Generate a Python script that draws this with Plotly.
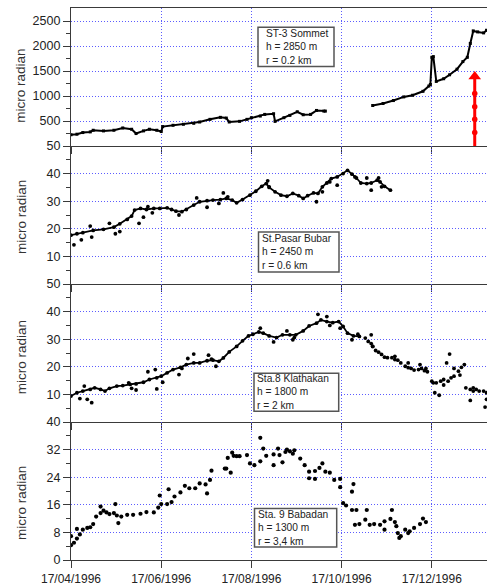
import pandas as pd
import plotly.graph_objects as go
from plotly.subplots import make_subplots

START = "1996-04-17"
END_DAYS = 281.3

# ---------------- data (day offsets from 17/04/1996, micro radian) ----------------
# Panel 1: ST-3 Sommet (continuous record with a gap)
p1_days = [0, 4, 8, 13, 15, 22, 29, 35, 41, 44, 49, 53, 58, 61, 62, 69, 76, 83, 87, 94,
           101, 105, 107, 114, 119, 122, 128, 131, 137, 138, 144, 148, 153, 157, 162, 166, 171, 172, 188, 204,
           211, 218, 225, 231, 238, 242, 243, 244, 245, 247, 252, 256, 261, 265, 268, 270, 272, 275, 279, 281]
p1_vals = [223, 236, 269, 282, 315, 302, 315, 361, 335, 249, 302, 335, 315, 289, 388, 414, 434, 454, 480, 533,
           573, 559, 480, 493, 533, 566, 599, 632, 645, 493, 566, 612, 685, 625, 632, 711, 698, 698, None, 810,
           850, 909, 982, 1015, 1094, 1200, 1230, 1774, 1787, 1292, 1345, 1424, 1536, 1688, 1774, 2051, 2302, 2282, 2262, 2315]
# red arrow (eruption marker) in panel 1
arrow_day = 273
arrow_shaft = [0, 1400]
arrow_marks = [269, 533, 784, 1048]
arrow_head = 1390

# Panel 2: St. Pasar Bubar
p2_days = [0, 4, 8, 15, 22, 29, 33, 38, 41, 43, 47, 51, 56, 60, 65, 68, 71, 75, 78, 83,
           87, 92, 96, 101, 105, 109, 112, 116, 121, 125, 129, 132, 134, 138, 142, 146, 150, 154, 157, 160,
           164, 167, 170, 173, 176, 180, 184, 187, 190, 193, 196, 200, 203, 207, 209, 212, 216]
p2_vals = [17.7, 18.2, 18.6, 19.4, 19.8, 20.6, 21.8, 23.4, 24.6, 26.8, 27.4, 27.0, 27.4, 27.4, 27.6, 27.0, 26.4, 26.2, 27.0, 28.6,
           29.8, 30.2, 30.4, 30.6, 31.0, 30.4, 29.4, 30.6, 32.2, 33.6, 35.4, 36.4, 35.0, 33.4, 32.2, 31.8, 32.8, 32.0, 31.0, 32.0,
           33.0, 32.8, 35.2, 36.6, 38.2, 38.8, 40.0, 41.2, 39.8, 38.4, 36.6, 36.4, 36.6, 37.6, 37.0, 35.4, 34.0]
p2_out_days = [2, 7, 13, 14, 26, 30, 33, 46, 49, 52, 55, 73, 85, 92, 100, 103, 106, 133, 134, 166,
               170, 175, 180, 192, 200, 203, 208, 210]
p2_out_vals = [14.2, 16.0, 21.0, 17.0, 22.0, 18.2, 19.0, 22.0, 24.2, 28.0, 25.8, 25.0, 31.2, 27.8, 29.2, 33.0, 31.6, 37.4, 35.2, 29.8,
               33.4, 37.0, 35.8, 38.8, 38.4, 34.0, 38.4, 35.2]

# Panel 3: Sta.8 Klathakan
p3_days = [0, 4, 8, 13, 16, 20, 23, 26, 31, 35, 40, 44, 49, 53, 58, 61, 65, 69, 74, 78,
           83, 87, 92, 96, 100, 103, 107, 112, 116, 120, 123, 127, 130, 134, 139, 143, 148, 152, 157, 161,
           166, 169, 173, 177, 181, 184, 187, 191, 195]
p3_vals = [9.4, 10.6, 11.2, 11.8, 12.4, 11.8, 11.2, 12.2, 13.0, 13.2, 13.6, 13.8, 14.4, 15.4, 16.0, 16.6, 17.8, 19.0, 19.8, 20.8,
           21.4, 21.4, 22.2, 22.4, 22.0, 23.2, 25.4, 27.4, 29.4, 31.2, 31.8, 32.6, 32.2, 31.2, 30.6, 31.6, 31.6, 31.6, 33.0, 34.8,
           35.8, 37.0, 36.4, 36.0, 36.4, 34.6, 32.2, 31.2, 31.0]
p3_late_days = [199, 201, 203, 204, 206, 208, 210, 212, 214, 217, 219, 221, 223, 226, 228, 230, 232, 235, 237, 239,
                241, 244, 245, 247, 250, 252, 255, 257, 259, 262, 264, 266, 267, 270, 272, 274, 276, 279, 281]
p3_late_vals = [30.4, 29.2, 28.4, 27.4, 25.9, 25.3, 24.5, 23.5, 23.3, 23.3, 22.6, 22.4, 21.4, 20.2, 19.7, 19.4, 18.8, 19.0, 19.4, 18.6,
                18.2, 14.8, 14.2, 14.2, 14.8, 15.4, 14.8, 16.0, 16.6, 18.4, 19.8, 20.8, 12.4, 11.8, 11.2, 11.8, 11.2, 11.2, 10.6]
p3_out_days = [6, 9, 11, 14, 39, 41, 44, 52, 57, 58, 62, 73, 75, 79, 83, 93, 95, 98, 128, 137,
               146, 150, 151, 167, 173, 175, 182, 190, 194, 203, 204, 219, 228, 236, 240, 246, 249, 252, 254, 256,
               259, 263, 270, 272, 280, 281]
p3_out_vals = [8.5, 13.0, 8.2, 7.0, 14.2, 12.2, 11.6, 18.2, 19.0, 12.0, 14.4, 17.2, 19.4, 23.0, 24.6, 24.2, 22.8, 20.2, 34.0, 29.0,
               33.0, 29.8, 30.6, 39.0, 38.2, 35.0, 34.0, 29.8, 31.8, 31.6, 27.4, 23.8, 21.4, 20.8, 19.4, 10.6, 9.7, 13.4, 21.4, 24.6,
               19.4, 17.0, 7.8, 12.4, 5.4, 8.2]

# Panel 4: Sta. 9 Babadan
p4_days = [0, 2, 4, 6, 8, 11, 13, 15, 17, 20, 22, 24, 26, 29, 31, 34, 38, 42, 47, 51,
           56, 59, 61, 65, 68, 70, 74, 77, 80, 84, 87, 91, 94, 104, 106, 110, 114, 119, 121, 124,
           128, 132, 137, 141, 145, 148, 151, 155, 158, 161, 165, 168, 172, 175, 178, 182, 184, 186, 190, 192,
           195, 199, 202, 205, 209, 212, 216, 219, 221, 223, 226, 229, 232, 236, 238, 240]
p4_vals = [4.3, 5.0, 6.2, 7.4, 8.8, 9.3, 9.5, 10.4, 12.6, 13.6, 14.3, 13.8, 13.3, 13.6, 12.9, 12.6, 13.1, 13.1, 13.4, 13.9,
           13.8, 15.2, 16.2, 16.2, 16.8, 18.4, 19.6, 21.5, 20.8, 20.8, 22.2, 21.9, 23.2, 26.5, 29.6, 30.2, 30.1, 30.4, 28.0, 27.5,
           28.6, 30.2, 30.6, 30.4, 31.3, 31.5, 31.8, 29.4, 27.5, 25.6, 25.8, 26.7, 25.6, 25.3, 23.2, 23.5, 16.5, 15.8, 14.5, 10.2,
           10.4, 11.7, 10.2, 10.4, 10.2, 11.2, 11.9, 11.0, 7.8, 6.9, 8.8, 8.3, 9.3, 10.4, 12.0, 11.0]
p4_out_days = [0, 4, 20, 30, 32, 60, 66, 92, 95, 105, 108, 109, 112, 128, 130, 137, 140, 143, 146, 150,
               161, 165, 170, 182, 190, 191, 193, 200, 212, 217, 220, 222, 228]
p4_out_vals = [6.9, 9.0, 15.5, 16.2, 10.7, 18.7, 20.5, 19.3, 25.9, 26.5, 25.3, 31.1, 30.1, 35.4, 32.3, 27.5, 32.3, 28.3, 32.0, 30.8,
               23.7, 23.5, 28.0, 21.1, 19.8, 22.0, 14.5, 14.5, 8.8, 14.5, 9.8, 6.4, 7.8]

# axis ticks
x_tick_days = [0, 61, 122, 183, 244]
x_tick_text = ["17/04/1996", "17/06/1996", "17/08/1996", "17/10/1996", "17/12/1996"]
y_ticks = [[500, 1000, 1500, 2000, 2500], [10, 20, 30, 40, 50], [10, 20, 30, 40, 50], [0, 8, 16, 24, 32, 40]]
y_minor = [[250, 750, 1250, 1750, 2250], [5, 15, 25, 35, 45], [5, 15, 25, 35, 45], [4, 12, 20, 28, 36]]
y_ranges = [[0, 2760], [0, 50], [0, 50], [0, 40]]

station_text = [["ST-3 Sommet", "h = 2850 m", "r = 0.2 km"],
                ["St.Pasar Bubar", "h = 2450 m", "r = 0.6 km"],
                ["Sta.8 Klathakan", "h = 1800 m", "r = 2 km"],
                ["Sta. 9 Babadan", "h = 1300 m", "r = 3,4 km"]]

# ---------------- layout geometry (pixels) ----------------
W, H = 487, 586
L, R, T, B = 71, 0, 8, 21
PW, PH = W - L - R, H - T - B


def px_x(px):
    return (px - L) / PW


def px_y(py):
    return (H - B - py) / PH


def dates(days):
    base = pd.Timestamp(START)
    return [base + pd.Timedelta(days=d) for d in days]


FONT = "Arial, Liberation Sans, sans-serif"
GRID = "#5c5cff"
AXC = "#3a3a3a"
GDASH = "1px,2px"

fig = make_subplots(rows=4, cols=1, shared_xaxes=True, vertical_spacing=0)

# panel 1
fig.add_trace(go.Scatter(x=dates(p1_days), y=p1_vals, mode="lines+markers",
                         line=dict(color="black", width=2), marker=dict(color="black", size=3, symbol="square"),
                         connectgaps=False, showlegend=False), row=1, col=1)
fig.add_trace(go.Scatter(x=dates([arrow_day, arrow_day]), y=arrow_shaft, mode="lines",
                         line=dict(color="#ff0000", width=3), showlegend=False), row=1, col=1)
fig.add_trace(go.Scatter(x=dates([arrow_day] * len(arrow_marks)), y=arrow_marks, mode="markers",
                         marker=dict(color="#ff0000", size=5.5), showlegend=False), row=1, col=1)
fig.add_trace(go.Scatter(x=dates([arrow_day]), y=[arrow_head], mode="markers",
                         marker=dict(color="#ff0000", size=11, symbol="triangle-up"), showlegend=False), row=1, col=1)

# panel 2
fig.add_trace(go.Scatter(x=dates(p2_days), y=p2_vals, mode="lines+markers",
                         line=dict(color="black", width=1.8), marker=dict(color="black", size=3.8),
                         showlegend=False), row=2, col=1)
fig.add_trace(go.Scatter(x=dates(p2_out_days), y=p2_out_vals, mode="markers",
                         marker=dict(color="black", size=3.8), showlegend=False), row=2, col=1)

# panel 3
fig.add_trace(go.Scatter(x=dates(p3_days), y=p3_vals, mode="lines+markers",
                         line=dict(color="black", width=1.8), marker=dict(color="black", size=3.8),
                         showlegend=False), row=3, col=1)
fig.add_trace(go.Scatter(x=dates(p3_late_days), y=p3_late_vals, mode="markers",
                         marker=dict(color="black", size=3.8), showlegend=False), row=3, col=1)
fig.add_trace(go.Scatter(x=dates(p3_out_days), y=p3_out_vals, mode="markers",
                         marker=dict(color="black", size=3.8), showlegend=False), row=3, col=1)

# panel 4
fig.add_trace(go.Scatter(x=dates(p4_days), y=p4_vals, mode="markers",
                         marker=dict(color="black", size=4.2), showlegend=False), row=4, col=1)
fig.add_trace(go.Scatter(x=dates(p4_out_days), y=p4_out_vals, mode="markers",
                         marker=dict(color="black", size=4.2), showlegend=False), row=4, col=1)

end_date = pd.Timestamp(START) + pd.Timedelta(days=END_DAYS)
fig.update_xaxes(type="date", range=[pd.Timestamp(START), end_date],
                 tickmode="array", tickvals=dates(x_tick_days), ticktext=x_tick_text,
                 ticks="outside", ticklen=7, tickwidth=1.2, tickcolor=AXC,
                 showgrid=True, gridcolor=GRID, gridwidth=1, griddash=GDASH,
                 showline=True, linecolor=AXC, linewidth=1.3, mirror=False, zeroline=False,
                 tickfont=dict(family=FONT, size=12, color="#222"))
fig.update_xaxes(mirror=True, row=1, col=1)

for i in range(4):
    fig.update_yaxes(range=y_ranges[i], tickmode="array", tickvals=y_ticks[i],
                     ticks="outside", ticklen=7, tickwidth=1.2, tickcolor=AXC,
                     minor=dict(tickmode="array", tickvals=y_minor[i], ticks="outside", ticklen=4,
                                tickcolor=AXC, showgrid=False),
                     showgrid=True, gridcolor=GRID, gridwidth=1, griddash=GDASH,
                     showline=True, linecolor=AXC, linewidth=1.3, zeroline=False,
                     tickfont=dict(family=FONT, size=12.5, color="#222"),
                     row=i + 1, col=1)

# station boxes (pixel geometry)
boxes = [(258, 27.5, 334, 67), (258.5, 234, 339, 274.5), (254, 376.5, 338.7, 415), (254.5, 513, 336.7, 552)]
text_x = [265, 260.5, 256, 256.5]

shapes = []
annotations = []
for k in range(4):
    x0, y0, x1, y1 = boxes[k]
    shapes.append(dict(type="rect", xref="paper", yref="paper",
                       x0=px_x(x0), x1=px_x(x1), y0=px_y(y1), y1=px_y(y0),
                       line=dict(color="#555", width=1.5), fillcolor="white", layer="above"))
    annotations.append(dict(text="<br>".join(station_text[k]), xref="paper", yref="paper",
                            x=px_x(text_x[k]), y=px_y((y0 + y1) / 2),
                            xanchor="left", yanchor="middle", align="left", showarrow=False, borderpad=0,
                            font=dict(family=FONT, size=10.2, color="#222")))

# y titles
title_cy = [86.5, 219, 360.5, 507.5]
for k in range(4):
    annotations.append(dict(text="micro radian", xref="paper", yref="paper", x=px_x(21), y=px_y(title_cy[k]),
                            xanchor="center", yanchor="middle", textangle=-90, showarrow=False,
                            font=dict(family=FONT, size=13.5, color="#333")))

fig.update_layout(width=W, height=H, margin=dict(l=L, r=R, t=T, b=B),
                  paper_bgcolor="white", plot_bgcolor="white",
                  shapes=shapes, annotations=annotations, showlegend=False)

fig.write_html("out.html")
